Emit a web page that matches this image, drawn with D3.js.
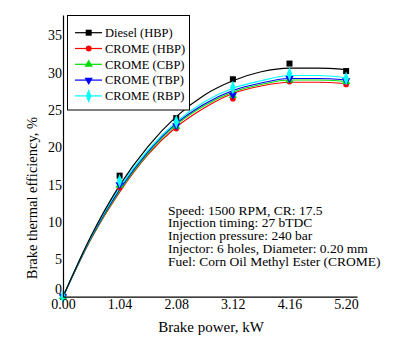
<!DOCTYPE html>
<html><head><meta charset="utf-8">
<script src="https://cdn.jsdelivr.net/npm/d3@7"></script>
<style>body{margin:0;background:#fff}svg{display:block}text{font-family:"Liberation Serif","Times New Roman",serif;fill:#000}</style>
</head><body><svg id="c" width="394" height="348"></svg>
<script>
// ---- data ----
const powerTicks = [0, 1.04, 2.08, 3.12, 4.16, 5.20];
const xTickLabels = ["0.00","1.04","2.08","3.12","4.16","5.20"];
const yTickValues = [0,5,10,15,20,25,30,35];
const seriesNames = ["Diesel (HBP)","CROME (HBP)","CROME (CBP)","CROME (TBP)","CROME (RBP)"];
const seriesColors = ["#000000","#ff0000","#00dd00","#0000ff","#00ffff"];
const seriesSymbols = ["square","circle","triangle","triangleDown","diamond"];
// measured points
const dieselHBP = [0, 16.2, 23.9, 29.1, 31.2, 30.2];
const cromeHBP  = [0, 14.6, 22.5, 26.5, 28.8, 28.4];
const cromeCBP  = [0, 14.9, 22.8, 26.9, 29.0, 28.8];
const cromeTBP  = [0, 15.0, 22.9, 27.0, 29.2, 28.9];
const cromeRBP  = [0, 15.5, 23.4, 28.0, 29.8, 29.2];
// fitted curves, read at half steps
const fitPower = [0,0.52,1.04,1.56,2.08,2.60,3.12,3.64,4.16,4.68,5.20];
const fitDiesel = [0, 8.2, 14.9, 20.1, 24.1, 27.0, 28.9, 30.1, 30.6, 30.6, 30.4];
const fitHBP    = [0, 7.8, 14.0, 19.0, 22.7, 25.3, 27.2, 28.2, 28.7, 28.7, 28.5];
const fitCBP    = [0, 7.9, 14.2, 19.2, 23.0, 25.6, 27.4, 28.4, 29.0, 29.0, 28.8];
const fitTBP    = [0, 8.0, 14.4, 19.4, 23.2, 25.8, 27.6, 28.6, 29.2, 29.2, 29.0];
const fitRBP    = [0, 8.1, 14.6, 19.6, 23.4, 26.1, 27.9, 28.9, 29.6, 29.6, 29.3];
const annotation = ["Speed: 1500 RPM, CR: 17.5","Injection timing: 27 bTDC","Injection pressure: 240 bar","Injector: 6 holes, Diameter: 0.20 mm","Fuel: Corn Oil Methyl Ester (CROME)"];

const points = [dieselHBP, cromeHBP, cromeCBP, cromeTBP, cromeRBP];
const fits = [fitDiesel, fitHBP, fitCBP, fitTBP, fitRBP];

const svg = d3.select("#c");
const x = d3.scaleLinear().domain([0, 5.4]).range([63, 357]);
const y = d3.scaleLinear().domain([0, 37.7]).range([296.7, 15]);

const symMap = {square:d3.symbolSquare, circle:d3.symbolCircle, triangle:d3.symbolTriangle, triangleDown:d3.symbolTriangle, diamond:d3.symbolDiamond};
const symSize = {square:36, circle:26, triangle:30, triangleDown:30, diamond:36};
function drawSym(g, type, cx, cy, color){
  const p = d3.symbol().type(symMap[type]).size(symSize[type]);
  let tr = `translate(${cx},${cy})`;
  if(type==="triangleDown") tr += " rotate(180)";
  if(type==="diamond") tr += " scale(0.85,1.25)";
  g.append("path").attr("d", p()).attr("transform", tr).attr("fill", color);
}

// curves (draw in back-to-front order)
const line = d3.line().x((d,i)=>x(fitPower[i])).y(d=>y(d)).curve(d3.curveMonotoneX);
[1,2,3,4,0].forEach(k=>{
  svg.append("path").attr("d", line(fits[k])).attr("fill","none").attr("stroke", seriesColors[k]).attr("stroke-width",1.2);
});
[0,1,2,3,4].forEach(k=>{
  const g = svg.append("g");
  points[k].forEach((v,i)=>drawSym(g, seriesSymbols[k], x(powerTicks[i]), y(v), seriesColors[k]));
});

// axes
const xAxis = d3.axisBottom(x).tickValues(powerTicks).tickFormat((d,i)=>xTickLabels[i]).tickSize(0).tickPadding(2);
const gx = svg.append("g").attr("transform","translate(0,296.7)").call(xAxis);
gx.select(".domain").attr("stroke","#000").attr("stroke-width",1.2);
gx.selectAll("text").style("font-family","Liberation Serif").style("font-size","14px").attr("fill","#000");
const yAxis = d3.axisLeft(y).tickValues(yTickValues).tickFormat(d3.format("d")).tickSize(0).tickPadding(1);
const gy = svg.append("g").attr("transform","translate(63,0)").call(yAxis);
gy.select(".domain").attr("stroke","#000").attr("stroke-width",1.2);
gy.selectAll("text").style("font-family","Liberation Serif").style("font-size","14px").attr("fill","#000");
gy.selectAll(".tick").filter(d=>d===0).select("text").attr("dy","-0.2em");

// axis titles
svg.append("text").attr("x",211).attr("y",332).attr("text-anchor","middle").style("font-size","15px").text("Brake power, kW");
svg.append("text").attr("transform","translate(37,198) rotate(-90)").attr("text-anchor","middle").style("font-size","14.5px").text("Brake thermal efficiency, %");

// legend
const lg = svg.append("g");
lg.append("rect").attr("x",67.5).attr("y",15.5).attr("width",122).attr("height",94.5).attr("fill","#fff").attr("stroke","#000").attr("stroke-width",1);
seriesNames.forEach((n,i)=>{
  const yy = 32.7 + i*15.8;
  lg.append("line").attr("x1",75).attr("x2",102).attr("y1",yy).attr("y2",yy).attr("stroke",seriesColors[i]).attr("stroke-width",1.2);
  drawSym(lg, seriesSymbols[i], 88.7, yy, seriesColors[i]);
  lg.append("text").attr("x",105).attr("y",yy+4.2).style("font-size","12.5px").text(n);
});

// annotation
annotation.forEach((t,i)=>{
  const tx = svg.append("text").attr("x",168).attr("y",214.5+i*12.9).style("font-size","12.5px").text(t);
  const w = tx.node().getComputedTextLength();
  tx.attr("textLength", w*1.08).attr("lengthAdjust","spacingAndGlyphs");
});
</script></body></html>
